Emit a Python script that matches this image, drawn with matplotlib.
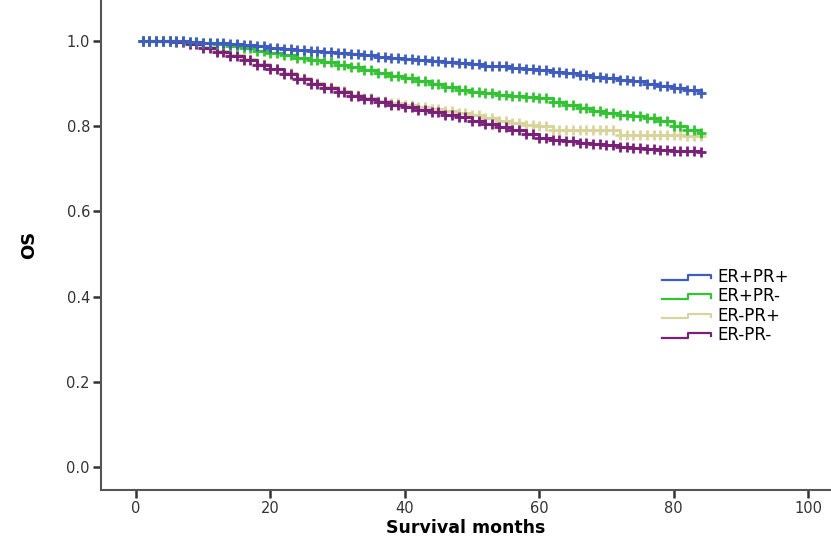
import numpy as np
import matplotlib
matplotlib.use("Agg")
import matplotlib.pyplot as plt
from matplotlib.lines import Line2D
from matplotlib.legend_handler import HandlerBase

plt.rcParams['font.family'] = ['DejaVu Sans']

months = np.arange(0, 86, 2)
er_pos_pr_pos = [1.0, 1.0, 1.0, 1.0, 0.998, 0.996, 0.994, 0.992, 0.99, 0.987, 0.984,
                 0.982, 0.979, 0.977, 0.974, 0.971, 0.969, 0.966, 0.963, 0.96, 0.957,
                 0.955, 0.952, 0.95, 0.947, 0.945, 0.942, 0.94, 0.937, 0.935, 0.932,
                 0.928, 0.924, 0.92, 0.916, 0.913, 0.909, 0.905, 0.9, 0.895, 0.89,
                 0.884, 0.878]
er_pos_pr_neg = [1.0, 1.0, 1.0, 0.999, 0.998, 0.996, 0.992, 0.988, 0.983, 0.977, 0.972,
                 0.966, 0.961, 0.955, 0.95, 0.944, 0.938, 0.931, 0.924, 0.918, 0.912,
                 0.905, 0.898, 0.891, 0.885, 0.88, 0.877, 0.874, 0.871, 0.868, 0.865,
                 0.857, 0.849, 0.842, 0.836, 0.83, 0.827, 0.823, 0.82, 0.812, 0.8,
                 0.79, 0.784]
er_neg_pr_pos = [1.0, 1.0, 1.0, 0.998, 0.992, 0.985, 0.976, 0.967, 0.957, 0.946, 0.935,
                 0.924, 0.913, 0.902, 0.892, 0.882, 0.873, 0.866, 0.86, 0.855, 0.85,
                 0.845, 0.84, 0.835, 0.83, 0.826, 0.818, 0.812, 0.807, 0.803, 0.8,
                 0.791, 0.791, 0.791, 0.791, 0.791, 0.779, 0.779, 0.779, 0.778, 0.778,
                 0.777, 0.777]
er_neg_pr_neg = [1.0, 1.0, 1.0, 0.998, 0.992, 0.984, 0.975, 0.965, 0.955, 0.944, 0.933,
                 0.922, 0.911, 0.9, 0.89, 0.88, 0.871, 0.863, 0.856, 0.85, 0.845,
                 0.839, 0.833, 0.827, 0.821, 0.812, 0.805, 0.798, 0.79, 0.782, 0.773,
                 0.768, 0.764, 0.761, 0.758, 0.756, 0.752, 0.749, 0.746, 0.744, 0.742,
                 0.741, 0.74]

labels = ["ER+PR+", "ER+PR-", "ER-PR+", "ER-PR-"]
colors = ["#3f5cbf", "#33c433", "#d9d49c", "#7a1f7a"]
series = [er_pos_pr_pos, er_pos_pr_neg, er_neg_pr_pos, er_neg_pr_neg]
censor_times = np.arange(1, 85, 1)

fig = plt.figure(figsize=(8.31, 5.40), dpi=100)
ax = fig.add_axes([101/831, 50/540, 1 - 101/831, 490/540])

order = [2, 3, 1, 0]
for i in order:
    s = np.array(series[i])
    ax.step(np.concatenate([[1], months[months > 0]]),
            np.concatenate([[s[0]], s[months > 0]]), where='post',
            color=colors[i], lw=2.2, zorder=3)
    idx = np.searchsorted(months, censor_times, side='right') - 1
    ax.plot(censor_times, s[idx], linestyle='none', marker='+', ms=7.5, mew=2.0,
            color=colors[i], zorder=3)


class StepHandler(HandlerBase):
    def create_artists(self, legend, orig_handle, xdescent, ydescent, width, height, fontsize, trans):
        x0, y0 = -xdescent, -ydescent
        xs = [x0, x0 + 0.52 * width, x0 + 0.52 * width, x0 + 0.97 * width, x0 + 0.97 * width]
        ys = [y0 + 0.2 * height, y0 + 0.2 * height, y0 + 0.6 * height, y0 + 0.6 * height, y0 + 0.3 * height]
        ln = Line2D(xs, ys, color=orig_handle.get_color(), lw=1.6)
        ln.set_transform(trans)
        return [ln]


handles = [Line2D([], [], color=c) for c in colors]
leg = fig.legend(handles, labels, loc='upper left',
                 bbox_to_anchor=(662/831, 1 - 268/540), bbox_transform=fig.transFigure,
                 frameon=False, fontsize=12, handlelength=3.0, handletextpad=0.3,
                 labelspacing=0.08, borderaxespad=0, borderpad=0,
                 handler_map={Line2D: StepHandler()})

ax.set_xlim(-5.2, 103.4)
ax.set_ylim(-0.054, 1.096)
ax.set_xticks([0, 20, 40, 60, 80, 100])
ax.set_yticks([0.0, 0.2, 0.4, 0.6, 0.8, 1.0])
ax.set_yticklabels(["0.0", "0.2", "0.4", "0.6", "0.8", "1.0"])

for sp in ['top', 'right']:
    ax.spines[sp].set_visible(False)
for sp in ['left', 'bottom']:
    ax.spines[sp].set_color('#555555')
    ax.spines[sp].set_linewidth(1.5)
ax.tick_params(axis='both', direction='out', length=6, width=1.8, color='#333333',
               labelsize=10.5, labelcolor='#333333')
ax.tick_params(axis='x', pad=2)
ax.tick_params(axis='y', pad=2)

ax.set_xlabel("Survival months", fontsize=12.5, fontweight='bold', labelpad=2)
ax.set_ylabel("OS", fontsize=13, fontweight='bold', labelpad=20)

fig.savefig("out.png", dpi=100)
